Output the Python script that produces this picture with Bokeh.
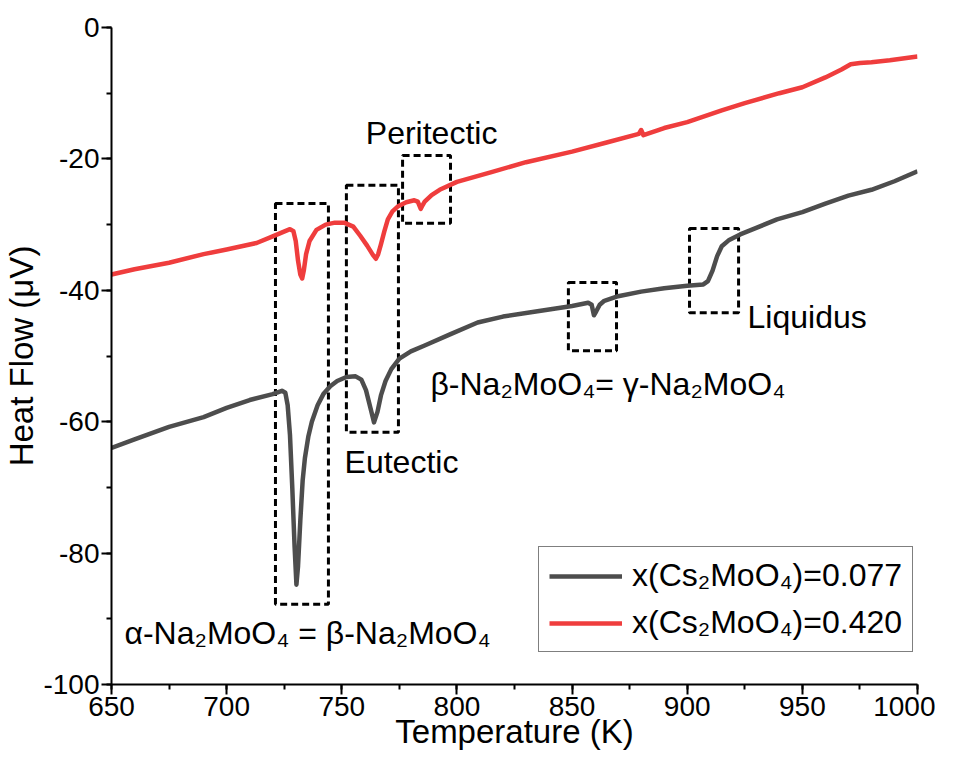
from bokeh.plotting import figure
from bokeh.models import (SingleIntervalTicker, Legend, LegendItem, ColumnDataSource, Range1d,
                          PrintfTickFormatter)
from bokeh.core.properties import value
from bokeh.embed import file_html
from bokeh.resources import INLINE

# ---- data: x(Cs2MoO4)=0.077 (dark grey) ----
t_077 = [650, 660, 675, 690, 700, 710, 720, 724, 725.5, 726.5, 727.5, 728.5, 729.5, 730.3,
         731, 732, 733, 734, 735.5, 737, 739.5, 742, 745, 748, 752, 756, 758.5, 760.5, 762.5,
         764, 765.5, 767, 769, 771.5, 775, 780, 786, 797, 809, 820, 835, 850, 857, 858.5,
         859.5, 860.5, 862, 864, 870, 880, 890, 900, 907, 909, 911, 913, 915, 918, 923, 930,
         939, 950, 960, 970, 980, 990, 1000]
hf_077 = [-64.0, -62.7, -60.8, -59.3, -57.9, -56.7, -55.8, -55.3, -55.6, -57.5, -62.0, -70.0,
          -79.0, -84.8, -82.0, -75.0, -69.0, -65.5, -62.2, -60.0, -57.5, -55.8, -54.6, -53.8,
          -53.2, -53.1, -53.6, -55.2, -58.0, -60.1, -58.5, -56.0, -53.8, -52.0, -50.4, -49.3,
          -48.4, -46.7, -44.9, -44.0, -43.2, -42.4, -41.9, -42.2, -43.8, -43.2, -42.2, -41.6,
          -40.9, -40.2, -39.7, -39.3, -39.1, -38.6, -37.0, -34.8, -33.3, -32.4, -31.5, -30.5,
          -29.2, -28.1, -26.8, -25.6, -24.7, -23.4, -21.9]

# ---- data: x(Cs2MoO4)=0.420 (red) ----
t_420 = [650, 660, 675, 690, 700, 713, 720, 727.5, 729, 730, 731, 732, 732.8, 733.5, 734.5,
         736, 739, 743, 747, 751, 755, 758, 761, 763.5, 764.8, 765.8, 767, 768.5, 770, 772,
         774.5, 778, 781.5, 783, 784.3, 785, 786, 789, 792.5, 800, 815, 830, 850, 865, 879,
         880, 881, 890, 900, 915, 925, 940, 950, 960, 967, 971, 975, 980, 988, 1000]
hf_420 = [-37.6, -36.8, -35.8, -34.5, -33.8, -32.8, -31.8, -30.7, -31.0, -32.5, -35.5, -37.6,
          -38.2, -37.0, -34.5, -32.5, -30.8, -30.0, -29.7, -29.7, -30.3, -31.7, -33.2, -34.6,
          -35.2, -34.5, -33.0, -31.0, -29.2, -28.0, -27.2, -26.6, -26.3, -26.5, -27.6, -27.1,
          -26.5, -25.5, -24.7, -23.5, -22.0, -20.5, -18.9, -17.5, -16.2, -15.6, -16.4, -15.3,
          -14.4, -12.6, -11.5, -10.0, -9.1, -7.6, -6.4, -5.6, -5.4, -5.3, -5.0, -4.4]

series_labels = ["x(Cs\u2082MoO\u2084)=0.077", "x(Cs\u2082MoO\u2084)=0.420"]

# ---- dashed highlight boxes (data coordinates) ----
box_left = [721.2, 752.0, 776.4, 848.4, 901.0]
box_right = [744.2, 774.6, 797.2, 869.3, 922.3]
box_bottom = [-87.8, -61.6, -29.8, -49.2, -43.4]
box_top = [-26.8, -24.0, -19.5, -38.8, -30.6]

# ---- annotations ----
ann_text = ["Peritectic", "Eutectic", "Liquidus",
            "\u03b2-Na\u2082MoO\u2084= \u03b3-Na\u2082MoO\u2084",
            "\u03b1-Na\u2082MoO\u2084 = \u03b2-Na\u2082MoO\u2084"]
ann_x = [789.0, 751.2, 926.2, 788.5, 655.6]
ann_y = [-16.0, -66.1, -44.1, -54.3, -92.1]
ann_align = ["center", "left", "left", "left", "left"]

x_ticks_interval = 50
y_ticks_interval = 20

FONT = "Liberation Sans"

p = figure(frame_width=806, frame_height=657, output_backend="svg", toolbar_location=None,
           x_range=Range1d(650, 1000), y_range=Range1d(-100, 0),
           min_border_left=108, min_border_right=18, min_border_top=27, min_border_bottom=60,
           x_axis_label="Temperature (K)", y_axis_label="Heat Flow (\u03bcV)")
p.outline_line_color = None
p.xgrid.visible = False
p.ygrid.visible = False
p.background_fill_color = "white"
p.border_fill_color = "white"

p.xaxis.ticker = SingleIntervalTicker(interval=x_ticks_interval, num_minor_ticks=2)
p.yaxis.ticker = SingleIntervalTicker(interval=y_ticks_interval, num_minor_ticks=2)
for ax in (p.xaxis[0], p.yaxis[0]):
    ax.formatter = PrintfTickFormatter(format="%d")
    ax.axis_line_width = 2
    ax.axis_line_color = "black"
    ax.major_tick_line_width = 2
    ax.minor_tick_line_width = 2
    ax.major_tick_line_color = "black"
    ax.minor_tick_line_color = "black"
    ax.major_tick_out = 10
    ax.major_tick_in = 0
    ax.minor_tick_out = 5
    ax.minor_tick_in = 0
    ax.major_label_text_font = FONT
    ax.major_label_text_font_size = "28px"
    ax.major_label_text_color = "black"
    ax.axis_label_text_font = FONT
    ax.axis_label_text_font_size = "33px"
    ax.axis_label_text_font_style = "normal"
    ax.axis_label_text_color = "black"
p.yaxis[0].major_label_standoff = 2
p.yaxis[0].axis_label_standoff = 0
p.xaxis[0].major_label_standoff = 2
p.xaxis[0].axis_label_standoff = -6

# boxes
p.quad(left=box_left, right=box_right, bottom=box_bottom, top=box_top,
       fill_color=None, line_color="black", line_width=3, line_dash="7 4")

r1 = p.line(t_077, hf_077, line_color="#4d4d4d", line_width=4.5, line_join="round")
r2 = p.line(t_420, hf_420, line_color="#ef3d3d", line_width=4.5, line_join="round")

src = ColumnDataSource(dict(x=ann_x, y=ann_y, text=ann_text, align=ann_align))
p.text(x="x", y="y", text="text", text_align="align", text_baseline="middle", source=src,
       text_font=value(FONT), text_font_size="32px", text_color="black")

legend = Legend(items=[LegendItem(label=series_labels[0], renderers=[r1]),
                       LegendItem(label=series_labels[1], renderers=[r2])],
                location=(427, 32), glyph_width=73, glyph_height=30, label_standoff=10,
                padding=10, spacing=10, label_height=36,
                label_text_font=FONT, label_text_font_size="32px", label_text_color="black",
                border_line_color="black", border_line_width=1.5,
                background_fill_color="white", background_fill_alpha=1.0)
p.add_layout(legend)

open("out.html", "w").write(file_html(p, INLINE))
